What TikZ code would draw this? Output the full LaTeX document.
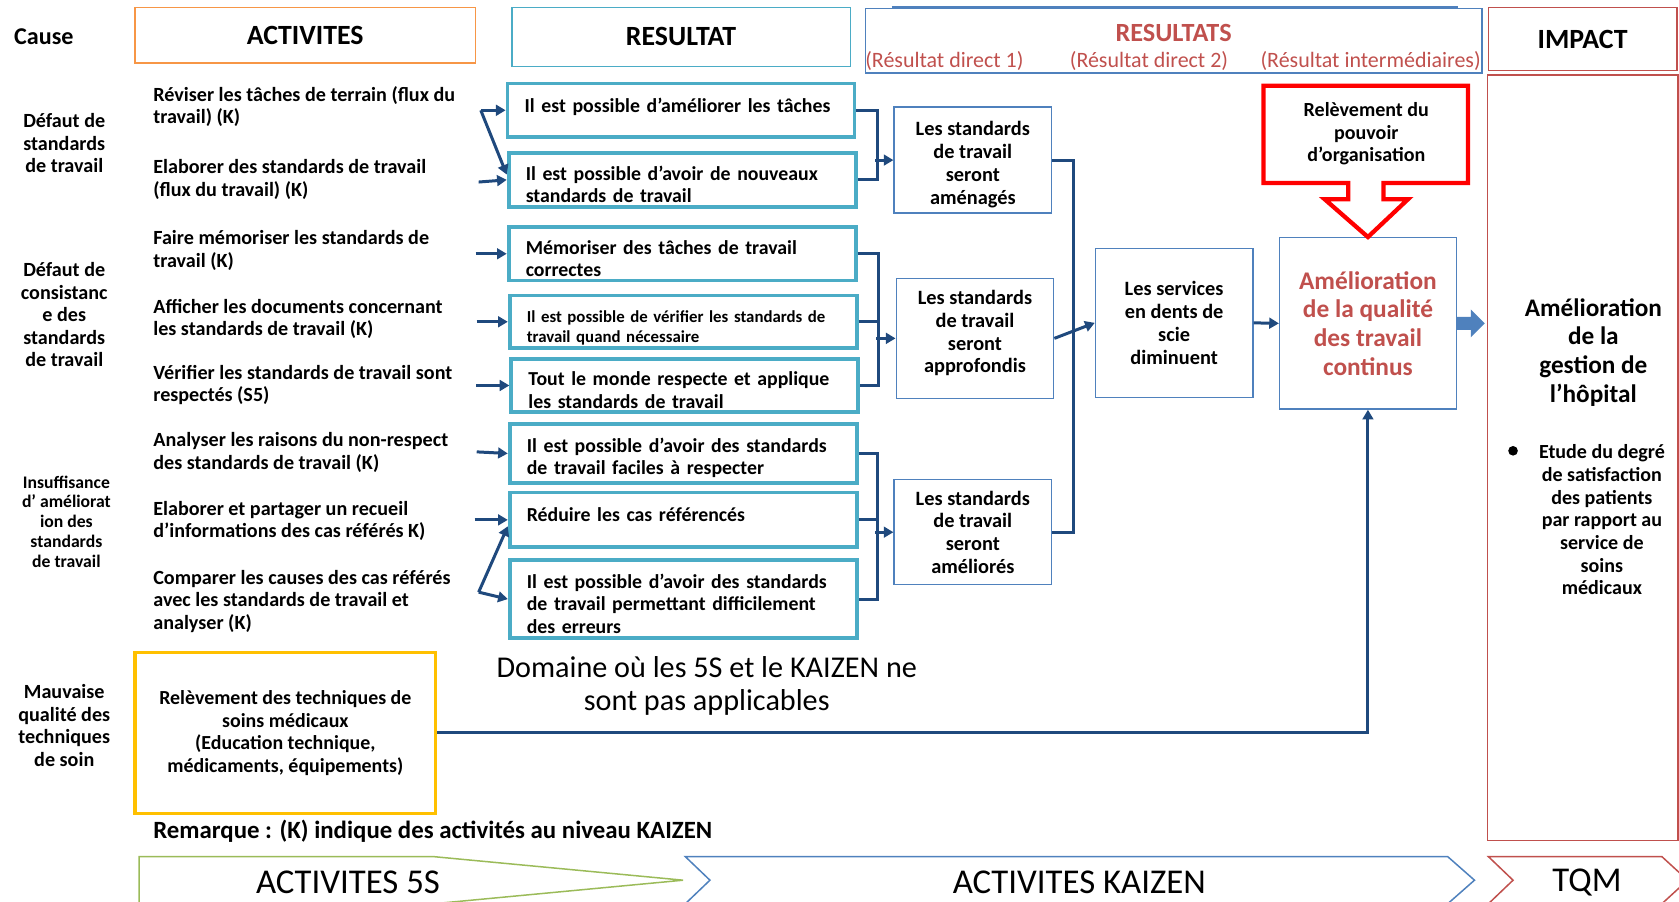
\documentclass[tikz,border=0pt]{standalone}
\usepackage{fontspec}
\setmainfont{Carlito}
\usetikzlibrary{arrows.meta}
\definecolor{navy}{RGB}{31,73,125}
\definecolor{tealb}{RGB}{75,172,198}
\definecolor{blu}{RGB}{79,129,189}
\definecolor{brick}{RGB}{192,80,77}
\definecolor{orng}{RGB}{247,150,70}
\definecolor{gold}{RGB}{255,192,0}
\definecolor{leaf}{RGB}{155,187,89}
\definecolor{redline}{RGB}{255,0,0}
\newcommand\myfs[2]{\fontsize{#1}{#2}\selectfont}

\begin{document}
\begin{tikzpicture}[x=1pt,y=-1pt,
  hdr/.style={draw, line width=1.3pt, inner sep=0pt, font=\bfseries\myfs{26}{28}},
  res/.style={draw=tealb, line width=3.6pt, inner xsep=15pt, inner ysep=0pt,
    text width=292pt, align=left, minimum width=324pt, font=\bfseries\myfs{18.5}{21},
    execute at begin node={\rule{0pt}{22pt}}},
  direct/.style={draw=blu, line width=1.3pt, align=center, inner sep=0pt,
    font=\bfseries\myfs{19}{21.3}},
  act/.style={anchor=west, align=left, inner sep=0pt, font=\bfseries\myfs{18.8}{21.2}},
  cause/.style={align=center, inner sep=0pt, font=\bfseries\myfs{18.8}{21}},
  con/.style={navy, line width=2.8pt},
  arr/.style={con, -{Triangle[length=9pt,width=10pt]}},
  chev/.style={line width=1.4pt},
  chevtxt/.style={inner sep=0pt, font=\myfs{32.5}{34}}
]
\useasboundingbox (0,0) rectangle (1568,842);
\clip (0,0) rectangle (1568,842);

% ---------- column headers ----------
\node[inner sep=0pt, font=\bfseries\myfs{22.5}{24}] (cause) at (41,34) {Cause};
\node[hdr, draw=orng, minimum width=318pt, minimum height=52pt] (hact) at (285,33) {ACTIVITES};
\node[hdr, draw=tealb, minimum width=316pt, minimum height=55pt] (hres) at (636,34.5) {RESULTAT};
\node[draw=blu, line width=1.3pt, minimum width=576pt, minimum height=60pt, inner sep=0pt] (hress) at (1096,38) {};
\draw[blu, line width=1.6pt] (833,6.5) -- (1362,6.5);
\node[inner sep=0pt, text=brick, font=\bfseries\myfs{24.5}{26}] (tress) at (1096,31) {RESULTATS};
\node[inner sep=0pt, text=brick, font=\myfs{20.5}{22}] (sub1) at (882,57) {(Résultat direct 1)};
\node[inner sep=0pt, text=brick, font=\myfs{20.5}{22}] (sub2) at (1073,57) {(Résultat direct 2)};
\node[inner sep=0pt, text=brick, font=\myfs{20.5}{22}] (sub3) at (1280,57) {(Résultat intermédiaires)};
\node[hdr, draw=brick, minimum width=176pt, minimum height=59pt] (himp) at (1478,36.5) {IMPACT};

% ---------- causes ----------
\node[cause] (c1) at (60,134) {Défaut de\\standards\\de travail};
\node[cause] (c2) at (60,294) {Défaut de\\consistanc\\e des\\standards\\de travail};
\node[cause, font=\bfseries\myfs{16.5}{18.5}] (c3) at (62,487) {Insuffisance\\d’ améliorat\\ion des\\standards\\de travail};
\node[cause] (c4) at (60,677.5) {Mauvaise\\qualité des\\techniques\\de soin};

% ---------- activities ----------
\node[act] (a1) at (143,99.5) {Réviser les tâches de terrain (flux du\\travail) (K)};
\node[act] (a2) at (143,167.5) {Elaborer des standards de travail\\(flux du travail) (K)};
\node[act] (a3) at (143,234) {Faire mémoriser les standards de\\travail (K)};
\node[act] (a4) at (143,298) {Afficher les documents concernant\\les standards de travail (K)};
\node[act] (a5) at (143,359.5) {Vérifier les standards de travail sont\\respectés (S5)};
\node[act] (a6) at (143,422.5) {Analyser les raisons du non-respect\\des standards de travail (K)};
\node[act] (a7) at (143,486.5) {Elaborer et partager un recueil\\d’informations des cas référés K)};
\node[act] (a8) at (143,561.5) {Comparer les causes des cas référés\\avec les standards de travail et\\analyser (K)};

% ---------- results ----------
\node[res, minimum height=50pt] (r1) at (636,103) {Il est possible d’améliorer les tâches\\[-9pt]\strut};
\node[res, minimum height=50pt] (r2) at (637,168) {Il est possible d’avoir de nouveaux\\standards de travail};
\node[res, minimum height=50pt] (r3) at (637,237) {Mémoriser des tâches de travail\\correctes};
\node[res, minimum height=49pt, font=\bfseries\myfs{15.7}{19}] (r4) at (638,300.5) {Il est possible de vérifier les standards de\\travail quand nécessaire};
\node[res, minimum height=50pt] (r5) at (639.5,360) {Tout le monde respecte et applique\\les standards de travail};
\node[res, minimum height=55pt] (r6) at (638,423.5) {Il est possible d’avoir des standards\\de travail faciles à respecter};
\node[res, minimum height=51pt] (r7) at (638,485.5) {Réduire les cas référencés\\[-9pt]\strut};
\node[res, minimum height=73pt] (r8) at (638,559.5) {Il est possible d’avoir des standards\\de travail permettant difficilement\\des erreurs};

% ---------- activity -> result arrows ----------
\coordinate (s1) at (449,103);
\coordinate (s2) at (447,170);
\coordinate (s8) at (447,553);
\draw[arr] (s1) -- (r1.west);
\draw[arr] (s1) -- ([yshift=5pt]r2.west);
\draw[arr] (s2) -- (r2.west);
\draw[arr] ([xshift=-29pt]r3.west) -- (r3.west);
\draw[arr] ([xshift=-29pt]r4.west) -- (r4.west);
\draw[arr] ([xshift=-31pt]r5.west) -- (r5.west);
\draw[arr] ([xshift=-29pt,yshift=1.5pt]r6.west) -- (r6.west);
\draw[arr] ([xshift=-31pt]r7.west) -- (r7.west);
\draw[arr] (s8) -- ([yshift=-6pt]r7.west);
\draw[arr] (s8) -- (r8.west);

% ---------- direct results ----------
\node[direct, minimum width=147pt, minimum height=99pt] (d1) at (908.5,149.5) {\rule{0pt}{22pt}Les standards\\de travail\\seront\\aménagés};
\node[direct, minimum width=147pt, minimum height=112pt] (d2) at (910.5,316) {Les standards\\de travail\\seront\\approfondis\\[-15pt]\strut};
\node[direct, minimum width=147pt, minimum height=98pt] (d3) at (908.5,497) {Les standards\\de travail\\seront\\améliorés};

\draw[con] (r1.east) -| ([xshift=20pt]r1.east |- r2.east) -- (r2.east);
\draw[arr] ([xshift=-17pt]d1.west) -- (d1.west);
\draw[con] (r3.east) -| ([xshift=20pt]r3.east |- r5.east) -- (r5.east);
\draw[con] (r4.east) -- ([xshift=19pt]r4.east);
\draw[arr] ([xshift=-18pt]d2.west) -- (d2.west);
\draw[con] (r6.east) -| ([xshift=18pt]r6.east |- r8.east) -- (r8.east);
\draw[con] (r7.east) -- ([xshift=18pt]r7.east);
\draw[arr] ([xshift=-17pt]d3.west) -- (d3.west);

% ---------- second level ----------
\node[direct, minimum width=147pt, minimum height=139pt] (sv) at (1096.5,301.5) {Les services\\en dents de\\scie\\diminuent};
\node[direct, minimum width=165pt, minimum height=160pt, text=brick, font=\bfseries\myfs{23.7}{26.8}] (am) at (1277.5,302) {Amélioration\\de la qualité\\des travail\\continus};

\draw[con] (d1.east) -| ([xshift=20pt]d1.east |- d3.east) -- (d3.east);
\draw[arr] (d2.east) -- (sv.west);
\draw[arr] (sv.east) -- (am.west);

% block arrow towards the impact column
\fill[blu] ([yshift=6pt]am.east) -- ++(13,0) -- ++(0,-7) -- ++(13,13) -- ++(-13,13) -- ++(0,-7) -- ++(-13,0) -- cycle;

% organisational power callout
\node[inner sep=0pt, align=center, font=\bfseries\myfs{18.7}{21}] (pw) at (1276,125) {Relèvement du\\pouvoir\\d’organisation};
\draw[redline, line width=4pt, line join=miter]
  (1180,80) -- (1371,80) -- (1371,171) -- (1292,171) -- (1292,186) -- (1315,186)
  -- (am.north) -- (1237,186) -- (1259,186) -- (1259,171) -- (1180,171) -- cycle;

% ---------- medical techniques ----------
\node[draw=gold, line width=3pt, minimum width=281pt, minimum height=151pt, align=center,
  inner sep=0pt, font=\bfseries\myfs{18.6}{21}] (tech) at (266.5,684.5)
  {Relèvement des techniques de\\soins médicaux\\(Education technique,\\médicaments, équipements)};
\draw[arr] (tech.east) -| (am.south);

\node[inner sep=0pt, align=center, font=\myfs{28.2}{31}] (dom) at (660,640.5)
  {Domaine où les 5S et le KAIZEN ne\\sont pas applicables};
\node[anchor=west, inner sep=0pt, font=\bfseries\myfs{23.2}{25}] (rem) at (143,776)
  {Remarque : (K) indique des activités au niveau KAIZEN};

% ---------- impact column ----------
\node[draw=brick, line width=1.3pt, minimum width=178pt, minimum height=715pt, inner sep=0pt] (impcol) at (1478,427.5) {};
\node[inner sep=0pt, align=center, font=\bfseries\myfs{23.6}{26.7}] (imptxt) at (1488,329)
  {Amélioration\\de la\\gestion de\\l’hôpital};
\fill (1413,421) circle (4.5);
\node[inner sep=0pt, align=center, font=\bfseries\myfs{18.7}{21.2}] (etude) at (1496,485.5)
  {Etude du degré\\de satisfaction\\des patients\\par rapport au\\service de\\soins\\médicaux};

% ---------- bottom bands ----------
\draw[leaf, chev] (130,846) -- (130,800) -- (405,800) -- (638,822) -- (405,844) -- (130,844);
\node[chevtxt] (t5s) at (325,824) {ACTIVITES 5S};
\draw[blu, chev] (640,800) -- (1352,800) -- (1377,822) -- (1352,844) -- (640,844) -- (663,822) -- cycle;
\node[chevtxt] (tkz) at (1008,824) {ACTIVITES KAIZEN};
\draw[brick, chev] (1390,800) -- (1552,800) -- (1576,822) -- (1552,844) -- (1390,844) -- (1413,822) -- cycle;
\node[chevtxt] (ttqm) at (1482,824) {TQM};
\end{tikzpicture}
\end{document}
